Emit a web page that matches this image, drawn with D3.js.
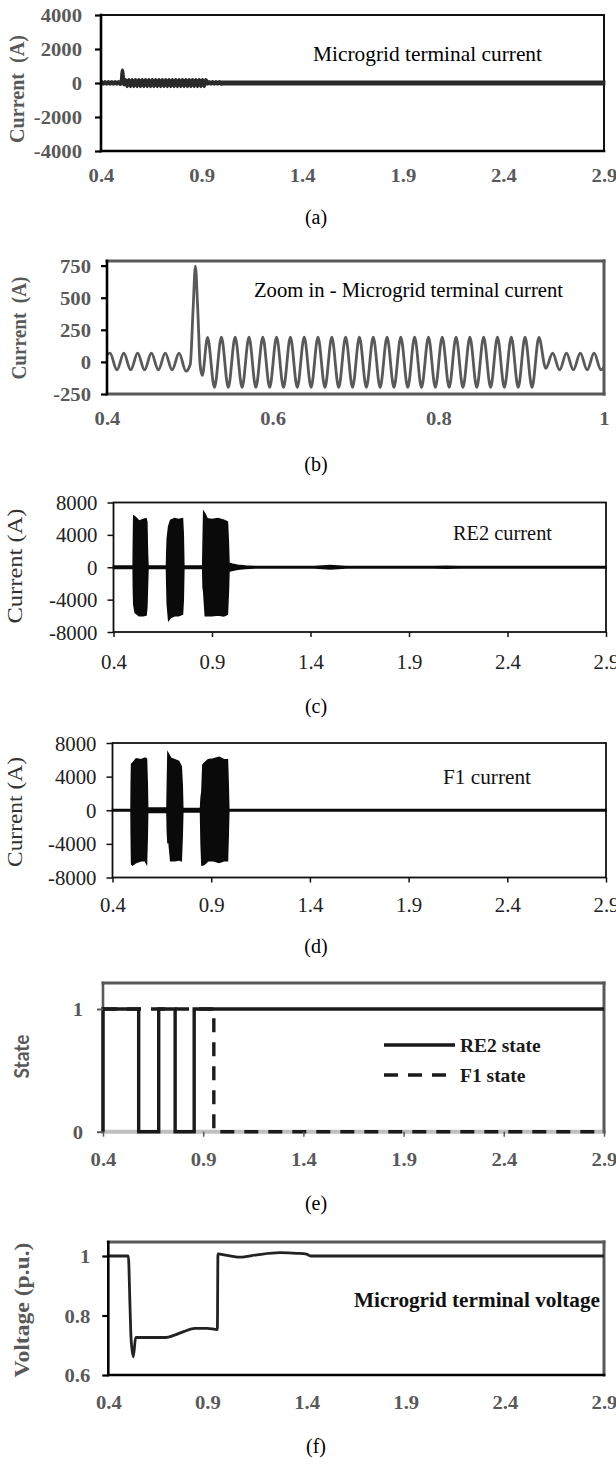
<!DOCTYPE html>
<html><head><meta charset="utf-8">
<script src="https://cdn.jsdelivr.net/npm/d3@7"></script>
<style>body{margin:0;background:#fff} svg text{white-space:pre}</style>
</head><body>
<svg id="chart" width="616" height="1466"></svg>
<script>
// ---------------- DATA ----------------
const xTicksLong = [0.4, 0.9, 1.4, 1.9, 2.4, 2.9];
const xTicksZoom = [0.4, 0.6, 0.8, 1.0];
const yTicksA = [-4000, -2000, 0, 2000, 4000];
const yTicksB = [-250, 0, 250, 500, 750];
const yTicksCD = [-8000, -4000, 0, 4000, 8000];
const yTicksE = [0, 1];
const yTicksF = [0.6, 0.8, 1];

// Microgrid terminal current (peaks / troughs)
const termTime = [0.4000,0.4036,0.4120,0.4203,0.4286,0.4370,0.4453,0.4536,0.4620,0.4703,0.4786,0.4870,0.4953,
  0.5005,0.5040,0.5067,0.5095,0.5125,0.5150,0.5214,
  0.5297,0.5381,0.5464,0.5547,0.5631,0.5714,0.5797,0.5881,0.5964,0.6047,0.6131,0.6214,0.6297,0.6381,0.6464,0.6547,
  0.6631,0.6714,0.6797,0.6881,0.6964,0.7047,0.7131,0.7214,0.7297,0.7381,0.7464,0.7547,0.7631,0.7714,0.7797,0.7881,
  0.7964,0.8047,0.8131,0.8214,0.8297,0.8381,0.8464,0.8547,0.8631,0.8714,0.8797,0.8881,0.8964,0.9047,0.9131,0.9214,
  0.9297,0.9380,0.9464,0.9547,0.9630,0.9714,0.9797,0.9880,0.9964,1.0000];
const termCurrent = [55,68,-62,68,-62,68,-62,68,-62,68,-62,68,-72,
  -20,420,745,420,-30,-105,190,
  -198,192,-198,192,-198,192,-198,192,-198,192,-198,192,-198,192,-198,192,
  -198,192,-198,192,-198,192,-198,192,-198,192,-198,192,-198,192,-198,192,
  -198,192,-198,192,-198,192,-198,192,-198,192,-198,192,-198,192,-198,190,
  -50,68,-62,68,-62,68,-62,68,-62,-40];
// steady-state tail shown only in panel a (envelope)
const termTailTime = [1.0, 2.9];
const termTailUpper = [68, 68];
const termTailLower = [-62, -62];

// RE2 current envelope (panel c)
const re2Time  = [0.40,0.50,0.501,0.503,0.51,0.53,0.55,0.565,0.569,0.572,0.575,0.669,0.671,0.673,0.68,0.69,0.71,0.73,0.75,0.754,0.757,
  0.853,0.855,0.858,0.866,0.875,0.90,0.93,0.96,0.978,0.983,0.986,1.0,1.03,1.07,1.12,1.42,1.50,1.58,2.03,2.09,2.15,2.9];
const re2Upper = [150,150,3000,6300,6200,5700,5900,6000,5600,2000,150,150,2000,3500,5000,5800,6000,5900,6000,4000,150,
  150,3000,6800,6500,6000,5900,6000,5800,5600,3000,500,400,250,150,80,80,200,80,80,130,80,80];
const re2Lower = [-150,-150,-2500,-4600,-5600,-6000,-6000,-5900,-5000,-2500,-150,-150,-2500,-4500,-6500,-6200,-6000,-6000,-5800,-4000,-150,
  -150,-2500,-3000,-6000,-6000,-6000,-5900,-6000,-5800,-3000,-500,-400,-250,-150,-80,-80,-200,-80,-80,-130,-80,-80];

// F1 current envelope (panel d)
const f1Time  = [0.40,0.494,0.495,0.497,0.502,0.52,0.545,0.565,0.572,0.576,0.578,0.676,0.678,0.681,0.686,0.695,0.715,0.735,0.748,0.753,0.756,
  0.846,0.849,0.853,0.858,0.866,0.885,0.91,0.94,0.965,0.982,0.986,0.989,2.9];
const f1Upper = [80,80,3000,5500,5600,6100,6000,6200,6100,3000,250,250,3000,6800,6600,6200,6000,5800,5200,3000,200,
  200,1500,2200,5400,5600,6000,6100,6300,6000,6000,3000,80,80];
const f1Lower = [-80,-80,-3000,-6400,-6500,-6200,-6000,-6000,-6300,-3000,-250,-250,-2500,-3800,-3700,-6000,-6000,-5900,-6000,-3000,-200,
  -200,-4000,-6500,-6500,-6400,-6000,-6000,-6200,-6000,-6000,-3000,-80,-80];

// breaker states (panel e)
const re2StateTime  = [0.4, 0.4, 0.578, 0.678, 0.760, 0.855, 2.9];
const re2StateValue = [0, 1, 0, 1, 0, 1, 1];
const f1StateTime   = [0.4, 0.953, 2.9];
const f1StateValue  = [1, 0, 0];
const legendNames = ["RE2 state", "F1 state"];

// Microgrid terminal voltage (panel f)
const voltTime  = [0.4,0.501,0.5095,0.5145,0.526,0.538,0.691,0.73,0.78,0.837,0.90,0.950,0.953,0.99,1.064,1.15,1.266,1.35,1.40,1.42,2.9];
const voltValue = [1.0,1.0,0.83,0.726,0.661,0.726,0.726,0.733,0.746,0.757,0.757,0.753,1.007,1.003,0.996,1.004,1.011,1.009,1.006,1.0,1.0];

const captions = ["(a)", "(b)", "(c)", "(d)", "(e)", "(f)"];

// ---------------- DRAWING ----------------
const svg = d3.select("#chart");
const SERIF = "'Liberation Serif','Times New Roman',serif";
const GREY = "#595959";

function seg(x1, y1, x2, y2, color, w) {
  svg.append("line").attr("x1", x1).attr("y1", y1).attr("x2", x2).attr("y2", y2)
    .attr("stroke", color).attr("stroke-width", w).attr("stroke-linecap", "square");
}
const bold = {family: SERIF, size: 19.5, weight: "bold", fill: GREY, sx: 1.06};
const reg = {family: SERIF, size: 20, weight: "normal", fill: "#222", sx: 1.04};

function yAxis(x0, y, ticks, o) {
  const g = svg.append("g").attr("transform", `translate(${x0},0)`)
    .call(d3.axisLeft(y).tickValues(ticks).tickFormat(o.fmt || (d => String(d))).tickSize(o.len).tickSizeOuter(0));
  g.select(".domain").remove();
  g.selectAll(".tick line").attr("stroke", o.tickColor).attr("stroke-width", o.tickWidth);
  g.selectAll(".tick text").attr("x", 0).attr("dy", "0.35em").attr("text-anchor", "end")
    .attr("transform", `translate(${-o.gap},0) scale(${o.font.sx},1)`)
    .style("font-family", o.font.family).style("font-size", o.font.size + "px")
    .style("font-weight", o.font.weight).attr("fill", o.font.fill);
}
function xAxis(y0, x, ticks, o) {
  const g = svg.append("g").attr("transform", `translate(0,${y0})`)
    .call(d3.axisBottom(x).tickValues(ticks).tickFormat(d => d === 1 ? "1" : d.toFixed(1)).tickSize(o.len).tickSizeOuter(0));
  g.select(".domain").remove();
  g.selectAll(".tick line").attr("stroke", o.tickColor || "#000").attr("stroke-width", o.tickWidth || 1.5);
  g.selectAll(".tick text").attr("y", 0).attr("dy", "0.35em").attr("text-anchor", "middle")
    .attr("transform", `translate(0,${o.off}) scale(${o.font.sx},1)`)
    .style("font-family", o.font.family).style("font-size", o.font.size + "px")
    .style("font-weight", o.font.weight).attr("fill", o.font.fill);
}
function yTitle(cx, cy, txt, len, font) {
  svg.append("text").attr("transform", `translate(${cx},${cy}) rotate(-90)`)
    .attr("text-anchor", "middle").attr("dy", "0.35em")
    .attr("textLength", len).attr("lengthAdjust", "spacingAndGlyphs")
    .style("font-family", font.family).style("font-size", font.size + "px")
    .style("font-weight", font.weight).attr("fill", font.fill).text(txt);
}
function label(x0, cy, txt, len, font) {
  svg.append("text").attr("x", x0).attr("y", cy).attr("dy", "0.35em")
    .attr("textLength", len).attr("lengthAdjust", "spacingAndGlyphs")
    .style("font-family", font.family).style("font-size", font.size + "px")
    .style("font-weight", font.weight || "normal").attr("fill", font.fill || "#000").text(txt);
}
function caption(i, cy) {
  svg.append("text").attr("x", 316).attr("y", cy).attr("dy", "0.35em").attr("text-anchor", "middle")
    .style("font-family", SERIF).style("font-size", "20px").attr("fill", "#000").text(captions[i]);
}
const zip = (t, v) => t.map((d, i) => [d, v[i]]);
const zip3 = (t, u, l) => t.map((d, i) => [d, u[i], l[i]]);

// ===== Panel (a) =====
{
  const L = 101, R = 604, T = 15, B = 151;
  const x = d3.scaleLinear().domain([0.4, 2.9]).range([L, R]);
  const y = d3.scaleLinear().domain([-4000, 4000]).range([B, T]);
  seg(L, T, R, T, "#111", 2); seg(R, T, R, B, "#111", 2);
  svg.append("path").datum(zip3(termTailTime, termTailUpper, termTailLower))
    .attr("d", d3.area().x(d => x(d[0])).y0(d => y(d[2])).y1(d => y(d[1])))
    .attr("fill", "#2a2a2a").attr("stroke", "#2a2a2a").attr("stroke-width", 2.8);
  svg.append("path").datum(zip(termTime, termCurrent))
    .attr("d", d3.line().x(d => x(d[0])).y(d => y(d[1])).curve(d3.curveMonotoneX))
    .attr("fill", "none").attr("stroke", "#2a2a2a").attr("stroke-width", 3.6);
  seg(L, T, L, B, "#000", 2.6); seg(L, B, R, B, "#000", 2.6);
  yAxis(L, y, yTicksA, {len: 6, gap: 19, tickColor: "#000", tickWidth: 2.2, font: bold});
  xAxis(B, x, xTicksLong, {len: 0, off: 24, font: bold});
  yTitle(17, 89, "Current  (A)", 108, {family: SERIF, size: 20, weight: "bold", fill: GREY});
  label(313, 54, "Microgrid terminal current", 229, {family: SERIF, size: 21});
  caption(0, 217);
}

// ===== Panel (b) =====
{
  const L = 107, R = 604, T = 261, B = 394;
  const x = d3.scaleLinear().domain([0.4, 1.0]).range([L, R]);
  const y = d3.scaleLinear().domain([-250, 786]).range([B, T]);
  seg(L, T, R, T, GREY, 3); seg(R, T, R, B, GREY, 3); seg(L, B, R, B, GREY, 3);
  svg.append("path").datum(zip(termTime, termCurrent))
    .attr("d", d3.line().x(d => x(d[0])).y(d => y(d[1])).curve(d3.curveMonotoneX))
    .attr("fill", "none").attr("stroke", GREY).attr("stroke-width", 2.8);
  seg(L, T, L, B, "#000", 2.6);
  yAxis(L, y, yTicksB, {len: 6, gap: 16, tickColor: "#000", tickWidth: 2.2, font: bold});
  xAxis(B, x, xTicksZoom, {len: 0, off: 24, font: bold});
  yTitle(19, 328, "Current  (A)", 103, {family: SERIF, size: 20, weight: "bold", fill: GREY});
  label(254, 290, "Zoom in - Microgrid terminal current", 309, {family: SERIF, size: 21});
  caption(1, 464);
}

// ===== Panel (c) =====
{
  const L = 113.5, R = 606, T = 502.5, B = 632;
  const x = d3.scaleLinear().domain([0.4, 2.9]).range([L, R]);
  const y = d3.scaleLinear().domain([-8000, 8000]).range([B, T]);
  svg.append("rect").attr("x", L).attr("y", T).attr("width", R - L).attr("height", B - T)
    .attr("fill", "none").attr("stroke", "#111").attr("stroke-width", 1.8);
  svg.append("path").datum(zip3(re2Time, re2Upper, re2Lower))
    .attr("d", d3.area().x(d => x(d[0])).y0(d => y(d[2])).y1(d => y(d[1])))
    .attr("fill", "#0a0a0a").attr("stroke", "#0a0a0a").attr("stroke-width", 1.6);
  yAxis(L, y, yTicksCD, {len: 6, gap: 16, tickColor: "#111", tickWidth: 1.5, font: reg});
  xAxis(B, x, xTicksLong, {len: 5, off: 30, tickColor: "#111", tickWidth: 1.5, font: reg});
  yTitle(15, 566, "Current (A)", 115, {family: SERIF, size: 21, weight: "normal", fill: "#333"});
  label(453, 533, "RE2 current", 99, {family: SERIF, size: 21, fill: "#111"});
  caption(2, 706);
}

// ===== Panel (d) =====
{
  const L = 112.5, R = 606, T = 743, B = 877.5;
  const x = d3.scaleLinear().domain([0.4, 2.9]).range([L, R]);
  const y = d3.scaleLinear().domain([-8000, 8000]).range([B, T]);
  svg.append("rect").attr("x", L).attr("y", T).attr("width", R - L).attr("height", B - T)
    .attr("fill", "none").attr("stroke", "#111").attr("stroke-width", 1.8);
  svg.append("path").datum(zip3(f1Time, f1Upper, f1Lower))
    .attr("d", d3.area().x(d => x(d[0])).y0(d => y(d[2])).y1(d => y(d[1])))
    .attr("fill", "#0a0a0a").attr("stroke", "#0a0a0a").attr("stroke-width", 1.6);
  yAxis(L, y, yTicksCD, {len: 6, gap: 16, tickColor: "#111", tickWidth: 1.5, font: reg});
  xAxis(B, x, xTicksLong, {len: 5, off: 27, tickColor: "#111", tickWidth: 1.5, font: reg});
  yTitle(15, 812, "Current (A)", 110, {family: SERIF, size: 21, weight: "normal", fill: "#333"});
  label(443, 777, "F1 current", 88, {family: SERIF, size: 21, fill: "#111"});
  caption(3, 946);
}

// ===== Panel (e) =====
{
  const L = 103, R = 604, T = 983, B = 1131.7;
  const x = d3.scaleLinear().domain([0.4, 2.9]).range([L, R]);
  const y = d3.scaleLinear().domain([0, 1.212]).range([B, T]);
  seg(L, B, R, B, "#bfbfbf", 4);
  seg(L, T, R, T, GREY, 3); seg(R, T, R, B, GREY, 3); seg(L, T, L, B, GREY, 2.6);
  svg.append("path").datum(zip(re2StateTime, re2StateValue))
    .attr("d", d3.line().x(d => x(d[0])).y(d => y(d[1])).curve(d3.curveStepAfter))
    .attr("fill", "none").attr("stroke", "#1a1a1a").attr("stroke-width", 3.4);
  svg.append("path").datum(zip(f1StateTime, f1StateValue))
    .attr("d", d3.line().x(d => x(d[0])).y(d => y(d[1])).curve(d3.curveStepAfter))
    .attr("fill", "none").attr("stroke", "#1a1a1a").attr("stroke-width", 3.4).attr("stroke-dasharray", "14,10");
  yAxis(L, y, yTicksE, {len: 6, gap: 20, tickColor: GREY, tickWidth: 2, font: bold});
  xAxis(B, x, xTicksLong, {len: 5, off: 27, tickColor: GREY, tickWidth: 1.5, font: bold});
  svg.append("text").attr("transform", "translate(22,1056.5) rotate(-90)").attr("text-anchor", "middle")
    .attr("dy", "0.35em").attr("textLength", 44).attr("lengthAdjust", "spacingAndGlyphs")
    .style("font-family", "Lato, 'Open Sans', sans-serif").style("font-size", "20px")
    .style("font-weight", "bold").attr("fill", GREY).text("State");
  const lg = [{y: 1045, dash: null}, {y: 1075, dash: "14,10"}];
  lg.forEach((d, i) => {
    const ln = svg.append("line").attr("x1", 384).attr("x2", 455).attr("y1", d.y).attr("y2", d.y)
      .attr("stroke", "#1a1a1a").attr("stroke-width", 3.4);
    if (d.dash) ln.attr("stroke-dasharray", d.dash);
    svg.append("text").attr("x", 460).attr("y", d.y).attr("dy", "0.35em")
      .style("font-family", SERIF).style("font-size", "19.5px").style("font-weight", "bold")
      .attr("fill", "#1a1a1a").text(legendNames[i]);
  });
  caption(4, 1203);
}

// ===== Panel (f) =====
{
  const L = 108.3, R = 604, T = 1242, B = 1375;
  const x = d3.scaleLinear().domain([0.4, 2.9]).range([L, R]);
  const y = d3.scaleLinear().domain([0.6, 1.047]).range([B, T]);
  seg(L, T, R, T, GREY, 3); seg(R, T, R, B, GREY, 3);
  svg.append("path").datum(zip(voltTime, voltValue))
    .attr("d", d3.line().x(d => x(d[0])).y(d => y(d[1])).curve(d3.curveMonotoneX))
    .attr("fill", "none").attr("stroke", "#222").attr("stroke-width", 2.8);
  seg(L, T, L, B, "#000", 2.6); seg(L, B, R, B, "#000", 2.6);
  yAxis(L, y, yTicksF, {len: 6, gap: 18, tickColor: "#000", tickWidth: 2.2,
    font: bold, fmt: d => d === 1 ? "1" : d.toFixed(1)});
  xAxis(B, x, xTicksLong, {len: 0, off: 27, font: bold});
  yTitle(21.6, 1310, "Voltage (p.u.)", 135, {family: SERIF, size: 20, weight: "bold", fill: GREY});
  label(354, 1300, "Microgrid terminal voltage", 246, {family: SERIF, size: 20, weight: "bold", fill: "#111"});
  caption(5, 1446);
}
</script>
</body></html>
